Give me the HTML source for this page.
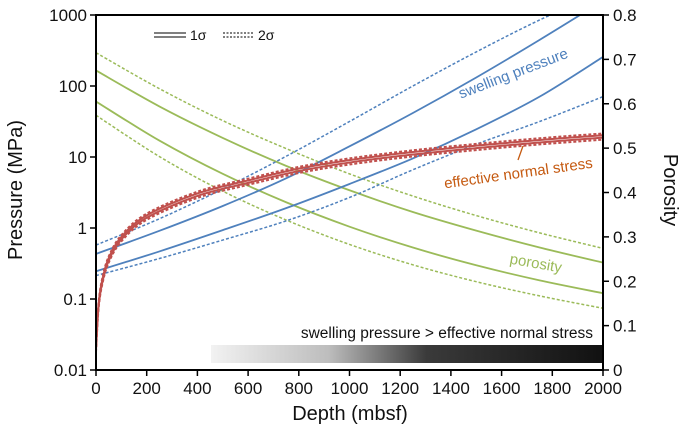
<!DOCTYPE html>
<html><head><meta charset="utf-8"><style>
html,body{margin:0;padding:0;background:#fff;}
svg{display:block;font-family:"Liberation Sans",sans-serif;}
</style></head><body>
<svg id="chart" width="685" height="440" viewBox="0 0 685 440" xmlns="http://www.w3.org/2000/svg">
<defs>
<linearGradient id="grad" x1="0" x2="1" y1="0" y2="0">
<stop offset="0" stop-color="#f2f2f2"/>
<stop offset="0.3" stop-color="#bdbdbd"/>
<stop offset="0.55" stop-color="#3a3a3a"/>
<stop offset="1" stop-color="#111"/>
</linearGradient>
<clipPath id="plotclip"><rect x="96" y="15" width="507" height="355"/></clipPath>
</defs>
<rect x="211" y="345" width="392" height="18" fill="url(#grad)"/>
<text x="593" y="338" text-anchor="end" font-size="15.5" fill="#111">swelling pressure &gt; effective normal stress</text>
<g id="marks" clip-path="url(#plotclip)"></g>
<g id="axes"></g>
<text transform="translate(22,190) rotate(-90)" text-anchor="middle" font-size="20" fill="#111">Pressure (MPa)</text>
<text transform="translate(664,190) rotate(90)" text-anchor="middle" font-size="20" fill="#111">Porosity</text>
<text x="350" y="420" text-anchor="middle" font-size="20" fill="#111">Depth (mbsf)</text>
<g>
<line x1="154" x2="186" y1="33" y2="33" stroke="#333" stroke-width="1.2"/>
<line x1="154" x2="186" y1="37" y2="37" stroke="#333" stroke-width="1.2"/>
<text x="190" y="40" font-size="14" fill="#111">1σ</text>
<line x1="223" x2="254" y1="33" y2="33" stroke="#333" stroke-width="1.2" stroke-dasharray="2,1.5"/>
<line x1="223" x2="254" y1="37" y2="37" stroke="#333" stroke-width="1.2" stroke-dasharray="2,1.5"/>
<text x="258" y="40" font-size="14" fill="#111">2σ</text>
</g>
<text transform="translate(515,78) rotate(-21)" text-anchor="middle" font-size="15" fill="#4f81bd">swelling pressure</text>
<line x1="523" y1="146" x2="518" y2="160" stroke="#c55a11" stroke-width="1.3"/>
<text transform="translate(519,178) rotate(-8)" text-anchor="middle" font-size="15" fill="#c55a11">effective normal stress</text>
<text transform="translate(535,268) rotate(10)" text-anchor="middle" font-size="15" fill="#9bbb59">porosity</text>
</svg>
<script>
const depths = [0,250,500,750,1000,1250,1500,1750,2000];
const porDashHi = [0.715,0.634,0.562,0.499,0.442,0.392,0.348,0.309,0.274];
const porSolidHi = [0.675,0.594,0.523,0.460,0.405,0.356,0.314,0.276,0.242];
const porSolidLo = [0.605,0.517,0.442,0.378,0.323,0.276,0.236,0.202,0.173];
const porDashLo = [0.574,0.481,0.403,0.338,0.283,0.237,0.199,0.167,0.139];
// log10 of swelling pressure (MPa)
const swDashHi = [-0.24,0.13,0.55,1.01,1.5,2.0,2.48,2.93,3.33];
const swSolidHi = [-0.365,-0.04,0.31,0.7,1.15,1.62,2.12,2.65,3.2];
const swSolidLo = [-0.61,-0.33,-0.03,0.28,0.62,0.98,1.39,1.85,2.41];
const swDashLo = [-0.67,-0.43,-0.17,0.1,0.43,0.82,1.18,1.5,1.85];
const stressDepths = [0,10,25,50,100,200,400,600,800,1000,1250,1500,1750,2000];
const stressCenter = [0.02,0.08,0.18,0.36,0.72,1.45,2.95,4.5,6.6,8.7,11.3,13.9,16.7,19.5];
const stressFactors = [1.1,1.04,0.96,0.9];
const xTicks = [0,200,400,600,800,1000,1200,1400,1600,1800,2000];
const yTickLabels = ["0.01","0.1","1","10","100","1000"];
const yTickVals = [0.01,0.1,1,10,100,1000];
const rTicks = [0,0.1,0.2,0.3,0.4,0.5,0.6,0.7,0.8];

const X0=96,X1=603,YT=15,YB=370;
const xS=d=>X0+(d/2000)*(X1-X0);
const yLog=l=>YB-(l+2)/5*(YB-YT);
const yP=v=>yLog(Math.log10(v));
const yR=p=>YB-p/0.8*(YB-YT);
const NS="http://www.w3.org/2000/svg";
const marks=document.getElementById('marks'), axes=document.getElementById('axes');
function mk(tag,attrs,parent){const e=document.createElementNS(NS,tag);for(const k in attrs)e.setAttribute(k,attrs[k]);parent.appendChild(e);return e;}
function smooth(pts){let d=`M${pts[0][0]},${pts[0][1]}`;for(let i=0;i<pts.length-1;i++){const p0=pts[Math.max(0,i-1)],p1=pts[i],p2=pts[i+1],p3=pts[Math.min(pts.length-1,i+2)];const c1=[p1[0]+(p2[0]-p0[0])/6,p1[1]+(p2[1]-p0[1])/6],c2=[p2[0]-(p3[0]-p1[0])/6,p2[1]-(p3[1]-p1[1])/6];d+=`C${c1[0]},${c1[1]} ${c2[0]},${c2[1]} ${p2[0]},${p2[1]}`;}return d;}
function curve(xs,ys,color,dashed,w,name){const pts=xs.map((d,i)=>[xS(d),ys[i]]);const p=mk('path',{d:smooth(pts),fill:'none',stroke:color,'stroke-width':w},marks);if(dashed)p.setAttribute('stroke-dasharray','3,2');

}
const G='#9bbb59',B='#4f81bd',R='#c0504d';
curve(depths,porDashHi.map(yR),G,true,1.5,'porosity-2sigma-upper');
curve(depths,porSolidHi.map(yR),G,false,1.8,'porosity-1sigma-upper');
curve(depths,porSolidLo.map(yR),G,false,1.8,'porosity-1sigma-lower');
curve(depths,porDashLo.map(yR),G,true,1.5,'porosity-2sigma-lower');
curve(depths,swDashHi.map(yLog),B,true,1.5,'swelling-2sigma-upper');
curve(depths,swSolidHi.map(yLog),B,false,1.8,'swelling-1sigma-upper');
curve(depths,swSolidLo.map(yLog),B,false,1.8,'swelling-1sigma-lower');
curve(depths,swDashLo.map(yLog),B,true,1.5,'swelling-2sigma-lower');
stressFactors.forEach((f,i)=>{const dashed=(i===0||i===3);curve(stressDepths,stressCenter.map(v=>yP(v*f)),R,dashed,2,'stress-curve-'+i);});
const fr=mk('rect',{x:X0,y:YT,width:X1-X0,height:YB-YT,fill:'none',stroke:'#000','stroke-width':2},axes);


xTicks.forEach(v=>{const x=xS(v);mk('line',{x1:x,x2:x,y1:YB,y2:YB+6,stroke:'#000','stroke-width':1.5},axes);const t=mk('text',{x:x,y:YB+24,'text-anchor':'middle','font-size':17,fill:'#111'},axes);t.textContent=v;

});
yTickVals.forEach((v,i)=>{const y=yP(v);mk('line',{x1:X0-6,x2:X0,y1:y,y2:y,stroke:'#000','stroke-width':1.5},axes);const t=mk('text',{x:X0-9,y:y+6,'text-anchor':'end','font-size':17,fill:'#111'},axes);t.textContent=yTickLabels[i];

});
rTicks.forEach(v=>{const y=yR(v);mk('line',{x1:X1,x2:X1+6,y1:y,y2:y,stroke:'#000','stroke-width':1.5},axes);const t=mk('text',{x:X1+10,y:y+6,'font-size':17,fill:'#111'},axes);t.textContent=(v===0?'0':v.toFixed(1));

});
</script>
</body></html>
